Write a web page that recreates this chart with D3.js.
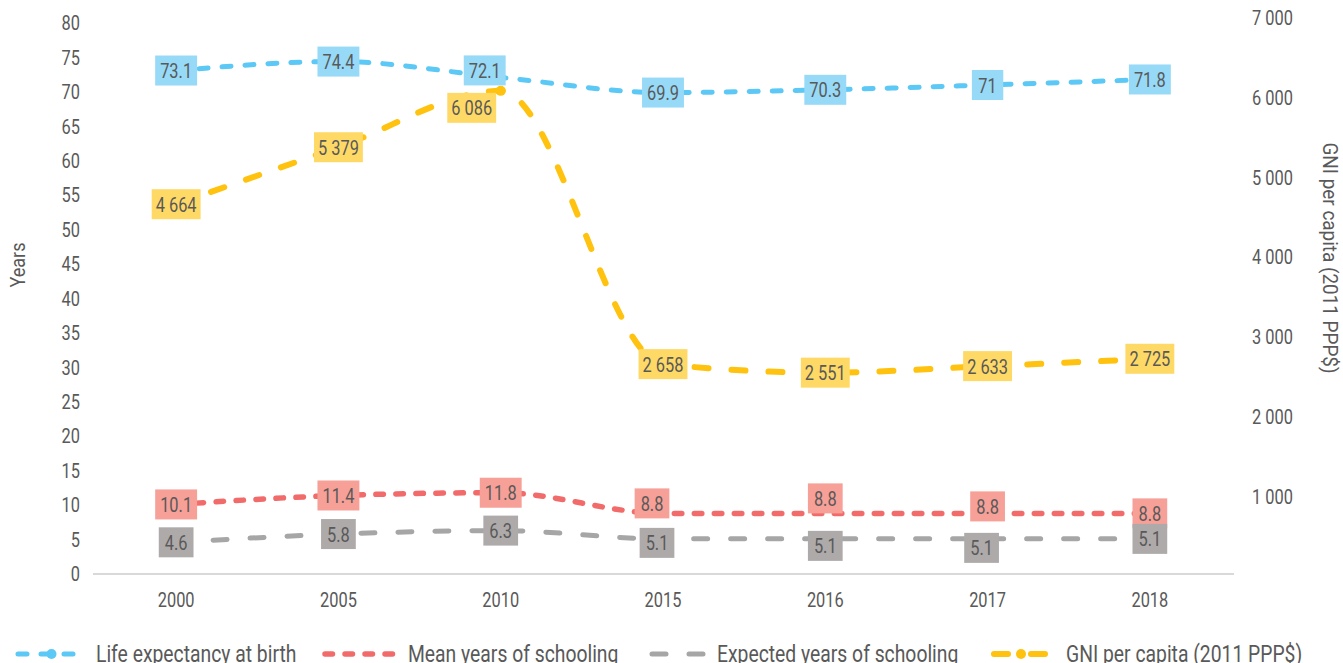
<!DOCTYPE html>
<html><head><meta charset="utf-8">
<script src="https://cdn.jsdelivr.net/npm/d3@7"></script>
<style>
body{margin:0;background:#fff;overflow:hidden}
text{font-family:Roboto,"Noto Sans",sans-serif;fill:#595959}
</style>
</head><body><svg id="chart" width="1343" height="663"></svg>
<script>
// ---- data ----
const years = ["2000","2005","2010","2015","2016","2017","2018"];
const lifeExpectancy = [73.1, 74.4, 72.1, 69.9, 70.3, 71, 71.8];
const meanSchooling = [10.1, 11.4, 11.8, 8.8, 8.8, 8.8, 8.8];
const expectedSchooling = [4.6, 5.8, 6.3, 5.1, 5.1, 5.1, 5.1];
const gniPerCapita = [4664, 5379, 6086, 2658, 2551, 2633, 2725];
const leftTicks = [0,5,10,15,20,25,30,35,40,45,50,55,60,65,70,75,80];
const rightTicks = [1000,2000,3000,4000,5000,6000,7000];
const seriesNames = ["Life expectancy at birth","Mean years of schooling","Expected years of schooling","GNI per capita (2011 PPP$)"];

// ---- layout / style ----
const SQ = 0.78; // horizontal squeeze to emulate a condensed face
function squeeze(sel, k) {
  sel.each(function() {
    const w = this.getComputedTextLength();
    this.setAttribute("textLength", w * (k || SQ));
    this.setAttribute("lengthAdjust", "spacingAndGlyphs");
  });
}
const svg = d3.select("#chart");
const x = d3.scaleBand().domain(years).range([95, 1231]);
const cx = d => x(d) + x.bandwidth()/2;
const yL = d3.scaleLinear().domain([0, 80]).range([574, 23]);
const yR = d3.scaleLinear().domain([0, 7000]).range([576, 18]);
const nf = d3.formatLocale({decimal:".", thousands:" ", grouping:[3], currency:["",""]}).format(",d");

const series = [
  {name: seriesNames[0], values: lifeExpectancy, y: yL, line:"#5BC8F5", box:"#97DAF8", width:5, dash:"9 14", marker:true, fmt: String,
   off: [[0,0],[0,0],[-16,-7],[0,0],[0,0],[0,0],[0,0]]},
  {name: seriesNames[1], values: meanSchooling, y: yL, line:"#F26B6B", box:"#F6A098", width:5.5, dash:"7.5 12.5", marker:false, fmt: String,
   off: [[0,0],[0,0],[0,0],[-11,-10],[0,-15],[0,-7],[0,0]]},
  {name: seriesNames[2], values: expectedSchooling, y: yL, line:"#A6A6A6", box:"#AEAAAA", width:5, dash:"14 23", marker:false, fmt: String,
   off: [[0,0],[0,0],[0,0],[-6,4],[0,7],[-6,9],[0,0]]},
  {name: seriesNames[3], values: gniPerCapita, y: yR, line:"#FFC20E", box:"#FFD966", width:6, dash:"14 23", marker:true, fmt: nf,
   off: [[0,0],[0,0],[-29,17],[0,0],[0,0],[0,0],[0,0]]}
];
const legendSymX = [16, 323, 650, 992];
const legendSymLen = [71, 72, 56, 58];
const legendTextX = [96, 408, 717, 1066];

// ---- axes ----
svg.append("line").attr("x1", 93).attr("x2", 1234).attr("y1", 574).attr("y2", 574)
  .attr("stroke", "#D9D9D9").attr("stroke-width", 2);

const gL = svg.append("g").attr("transform", "translate(80,0)")
  .call(d3.axisLeft(yL).tickValues(leftTicks).tickSize(0).tickPadding(0));
const gR = svg.append("g").attr("transform", "translate(1252,0)")
  .call(d3.axisRight(yR).tickValues(rightTicks).tickSize(0).tickPadding(0).tickFormat(nf));
const gX = svg.append("g").attr("transform", "translate(0,574)")
  .call(d3.axisBottom(x).tickSize(0).tickPadding(18));
[gL, gR, gX].forEach(g => {
  g.select(".domain").remove();
  g.selectAll("text").attr("font-size", 21).attr("fill", "#595959")
    .style("font-family", 'Roboto,"Noto Sans",sans-serif').call(squeeze);
});

svg.append("text").attr("transform", "translate(25,265) rotate(-90)")
  .attr("text-anchor", "middle").attr("font-size", 21).text("Years").call(squeeze, 0.86);
svg.append("text").attr("transform", "translate(1323,258) rotate(90)")
  .attr("text-anchor", "middle").attr("font-size", 21).text(seriesNames[3]).call(squeeze, 0.9);

// ---- lines ----
series.forEach(s => {
  const line = d3.line().x((d, i) => cx(years[i])).y(d => s.y(d)).curve(d3.curveMonotoneX);
  svg.append("path").datum(s.values).attr("d", line).attr("fill", "none")
    .attr("stroke", s.line).attr("stroke-width", s.width).attr("stroke-dasharray", s.dash)
    .attr("stroke-linecap", "round");
  if (s.marker) {
    svg.selectAll(null).data(s.values).enter().append("circle")
      .attr("cx", (d, i) => cx(years[i])).attr("cy", d => s.y(d)).attr("r", 5).attr("fill", s.line);
  }
});

// ---- data labels ----
series.forEach(s => {
  s.values.forEach((v, i) => {
    const g = svg.append("g");
    const px = cx(years[i]) + s.off[i][0], py = s.y(v) + s.off[i][1];
    const t = g.append("text").attr("x", px).attr("y", py).attr("dy", "0.36em")
      .attr("text-anchor", "middle").attr("font-size", 21).text(s.fmt(v)).call(squeeze);
    const w = t.node().getComputedTextLength() * SQ;
    g.insert("rect", "text").attr("x", px - w/2 - 8.5).attr("y", py - 15)
      .attr("width", w + 17).attr("height", 30).attr("fill", s.box);
  });
});

// ---- legend ----
series.forEach((s, i) => {
  const g = svg.append("g").attr("transform", `translate(0,654)`);
  const x0 = legendSymX[i], len = legendSymLen[i];
  g.append("line").attr("x1", x0 + 2).attr("x2", x0 + len - 2).attr("y1", 0).attr("y2", 0)
    .attr("stroke", s.line).attr("stroke-width", s.width).attr("stroke-dasharray", s.dash)
    .attr("stroke-linecap", "round");
  if (s.marker) g.append("circle").attr("cx", x0 + len/2).attr("cy", 0).attr("r", 5).attr("fill", s.line);
  g.append("text").attr("x", legendTextX[i]).attr("y", 0).attr("dy", "0.36em")
    .attr("font-size", 23).text(s.name).call(squeeze, 0.84);
});
</script>
</body></html>
